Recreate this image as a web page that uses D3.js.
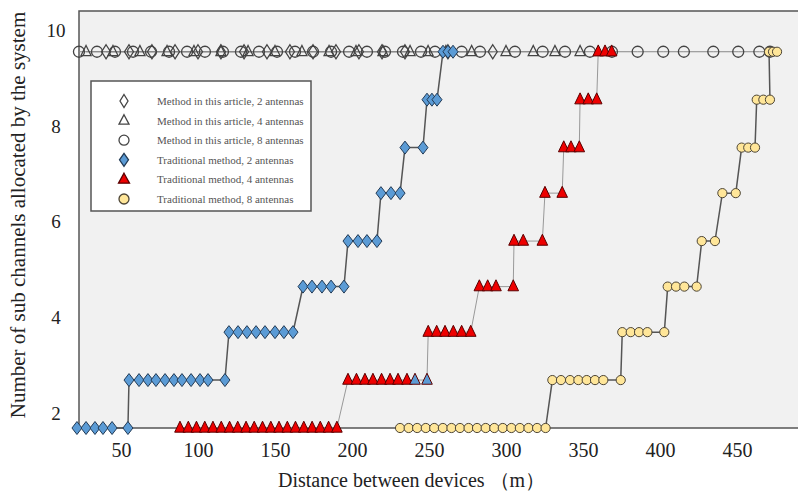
<!DOCTYPE html>
<html>
<head>
<meta charset="utf-8">
<script src="https://cdn.jsdelivr.net/npm/d3@7"></script>
<style>
  body { margin: 0; background: #fff; }
  svg { display: block; }
  text { font-family: "Liberation Serif", "Times New Roman", serif; }
</style>
</head>
<body>
<svg id="chart" width="798" height="491"></svg>
<script>
// channel levels (y) used by the step series
const levels = [1.7, 2.7, 3.7, 4.65, 5.6, 6.6, 7.55, 8.55, 9.55];
const xTicks = [50, 100, 150, 200, 250, 300, 350, 400, 450];
const yTicks = [2, 4, 6, 8, 10];

// method in this article: all points sit on the top level
const methodLevel = 9.55;
const method2 = [40.3, 55.2, 70.1, 85.1, 100, 114.9, 129.9, 144.8, 159.7, 174.7, 189.6, 204.5, 219.5, 234.4, 262.3, 291.4];
const method4 = [27.3, 44.8, 62.3, 79.9, 97.4, 114.9, 132.5, 150, 167.5, 185.1, 202.6, 220.1, 237.7, 249.4, 261, 277.7, 300, 317.7, 331.8, 348.1];
const method8 = [22.7, 34.4, 46.1, 57.8, 69.5, 81.2, 92.9, 104.5, 116.2, 127.9, 139.6, 151.3, 163, 174.7, 186.4, 198.1, 209.7, 221.4, 233.1, 244.8, 253.9, 271.2, 283.1, 305.8, 323.8, 338.3, 354.5, 368.8, 385.5, 402.1, 415.5, 434.6, 450.8, 464.5, 471.4];

// traditional method: distances per level (index = levels index)
const trad2 = [
  [21.4, 27.3, 33.1, 38.3, 44.2, 54.5],
  [55.2, 61.7, 67.5, 72.7, 78.6, 84.4, 89.6, 95.5, 101.3, 106.5, 117.5],
  [120.1, 126, 131.8, 137.7, 143.5, 150, 155.8, 161.7],
  [168.2, 174, 180.5, 186.4, 194.8],
  [197.4, 203.9, 209.7, 216.2],
  [218.8, 225.3, 231.2],
  [234.4, 246.1],
  [248.7, 251.9, 255.2],
  [259.1, 262.3, 265.6]
];
const trad4 = [
  [88.3, 93.7, 99.0, 104.4, 109.7, 115.1, 120.5, 125.8, 131.2, 136.5, 141.9, 147.3, 152.6, 158.0, 163.3, 168.7, 174.1, 179.4, 184.8, 190.2],
  [197.4, 202.9, 208.4, 213.6, 219.2, 224.7, 229.9, 235.7, 240.9, 248.7],
  [249.5, 255, 260.4, 265.8, 271.2, 277.1],
  [282.7, 288.1, 293.5, 304.7],
  [305.2, 311.2, 323.6],
  [325.3, 336.5],
  [337.5, 342.2, 347.6],
  [348.1, 353.4, 358.9],
  [359.9, 364.3, 368.6]
];
// two points of the 4-antenna traditional series are drawn blue in the original
const trad4BlueFill = [240.9, 248.7];
const trad8 = [
  [231.2, 236.8, 242.3, 247.9, 253.4, 259.0, 264.6, 270.1, 275.7, 281.2, 286.8, 292.4, 297.9, 303.5, 309.0, 314.6, 320.2, 325.7],
  [330.1, 335.7, 341.6, 347, 352.4, 357.8, 363.2, 374.5],
  [375.5, 381, 386.4, 391.8, 402.8],
  [405, 410.4, 415.8, 423.8],
  [427.1, 435.7],
  [440.5, 449.2],
  [453, 457.3, 461.7],
  [462.8, 467.1, 471.4],
  [470.8, 473.4, 476]
];

const legendLabels = [
  'Method in this article, 2 antennas',
  'Method in this article, 4 antennas',
  'Method in this article, 8 antennas',
  'Traditional method, 2 antennas',
  'Traditional method, 4 antennas',
  'Traditional method, 8 antennas'
];

const svg = d3.select('#chart');
const plot = { left: 79, top: 11, right: 798, bottom: 428 };

const x = d3.scaleLinear().domain([50, 450]).range([121, 737]);
const y = d3.scaleLinear().domain([1.7, 10.4]).range([plot.bottom, plot.top]);

const BLUE = '#5b9bd5';
const RED = '#ee0000';
const YELLOW = '#ffe699';

const shapes = {
  diamond: (w, h) => `M0,${-h}L${w},0L0,${h}L${-w},0Z`,
  triangle: (w, h) => `M0,${-h * 0.62}L${w},${h * 0.38}L${-w},${h * 0.38}Z`,
  circle: (r) => `M${r},0A${r},${r} 0 1,1 ${-r},0A${r},${r} 0 1,1 ${r},0Z`
};

// background + frame
svg.append('rect')
  .attr('x', plot.left).attr('y', plot.top)
  .attr('width', plot.right - plot.left).attr('height', plot.bottom - plot.top)
  .attr('fill', '#f1f1f1');

svg.append('path')
  .attr('d', `M${plot.right},${plot.top}H${plot.left}V${plot.bottom}H${plot.right}`)
  .attr('fill', 'none').attr('stroke', '#555').attr('stroke-width', 1.5);

// axes (labels only)
const xAxis = svg.append('g')
  .attr('transform', `translate(0,${plot.bottom})`)
  .call(d3.axisBottom(x).tickValues(xTicks).tickSize(0).tickPadding(15));
xAxis.select('.domain').remove();
xAxis.selectAll('text').attr('font-size', 20).attr('fill', '#222')
  .style('font-family', '"Liberation Serif", serif');

const yAxis = svg.append('g')
  .attr('transform', `translate(${plot.left},0)`)
  .call(d3.axisLeft(y).tickValues(yTicks).tickSize(0));
yAxis.select('.domain').remove();
yAxis.selectAll('text').attr('font-size', 19).attr('fill', '#222')
  .attr('text-anchor', 'middle').attr('x', -23)
  .style('font-family', '"Liberation Serif", serif');

svg.append('text')
  .attr('transform', 'translate(25,215) rotate(-90)')
  .attr('text-anchor', 'middle')
  .attr('font-size', 21).attr('fill', '#222')
  .text('Number of sub channels allocated by the system');

svg.append('text')
  .attr('x', 278).attr('y', 487)
  .attr('font-size', 20).attr('fill', '#222')
  .text('Distance between devices （m）');

const line = d3.line().x((d) => x(d[0])).y((d) => y(d[1]));
const flat = (rows) => rows.flatMap((row, i) => row.map((d) => [d, levels[i]]));
const onTop = (arr) => arr.map((d) => [d, methodLevel]);

const series = [
  { pts: onTop(method8), shape: shapes.circle(5.5), fill: 'none', stroke: '#444', sw: 1.3, line: '#888', lw: 1 },
  { pts: onTop(method4), shape: shapes.triangle(5, 10), fill: 'none', stroke: '#444', sw: 1.3, line: '#888', lw: 1 },
  { pts: onTop(method2), shape: shapes.diamond(4.5, 7), fill: 'none', stroke: '#444', sw: 1.3, line: '#888', lw: 1 },
  { pts: flat(trad2), shape: shapes.diamond(5, 6.5), fill: BLUE, stroke: '#223a55', sw: 1, line: '#555', lw: 1.5 },
  { pts: flat(trad4), shape: shapes.triangle(5.3, 11), fill: RED, stroke: '#5a0000', sw: 1, line: '#999', lw: 1,
    fillOf: (d) => (d[1] === levels[1] && trad4BlueFill.includes(d[0]) ? BLUE : RED) },
  { pts: flat(trad8), shape: shapes.circle(4.6), fill: YELLOW, stroke: '#4d4536', sw: 1, line: '#555', lw: 1.5 }
];

series.forEach((s) => {
  svg.append('path')
    .datum(s.pts)
    .attr('d', line)
    .attr('fill', 'none')
    .attr('stroke', s.line)
    .attr('stroke-width', s.lw);
});

series.forEach((s) => {
  svg.append('g')
    .selectAll('path')
    .data(s.pts)
    .enter()
    .append('path')
    .attr('transform', (d) => `translate(${x(d[0])},${y(d[1])})`)
    .attr('d', s.shape)
    .attr('fill', (d) => (s.fillOf ? s.fillOf(d) : s.fill))
    .attr('stroke', s.stroke)
    .attr('stroke-width', s.sw);
});

// legend
const legend = svg.append('g').attr('transform', 'translate(91,81)');
legend.append('rect')
  .attr('width', 220).attr('height', 130)
  .attr('fill', '#fff').attr('stroke', '#555').attr('stroke-width', 1.5);

const legendShapes = [
  { shape: shapes.diamond(4, 6.5), fill: 'none', stroke: '#444' },
  { shape: shapes.triangle(5, 9.5), fill: 'none', stroke: '#444' },
  { shape: shapes.circle(5), fill: 'none', stroke: '#444' },
  { shape: shapes.diamond(4.5, 6.5), fill: BLUE, stroke: '#223a55' },
  { shape: shapes.triangle(5.5, 10), fill: RED, stroke: '#5a0000' },
  { shape: shapes.circle(5), fill: YELLOW, stroke: '#4d4536' }
];

const item = legend.selectAll('g.item')
  .data(legendLabels)
  .enter()
  .append('g')
  .attr('class', 'item')
  .attr('transform', (d, i) => `translate(0,${20 + i * 19.6})`);

item.append('path')
  .attr('transform', 'translate(33,0)')
  .attr('d', (d, i) => legendShapes[i].shape)
  .attr('fill', (d, i) => legendShapes[i].fill)
  .attr('stroke', (d, i) => legendShapes[i].stroke)
  .attr('stroke-width', 1.3);

item.append('text')
  .attr('x', 66).attr('y', 4)
  .attr('font-size', 11).attr('fill', '#555')
  .text((d) => d);
</script>
</body>
</html>
